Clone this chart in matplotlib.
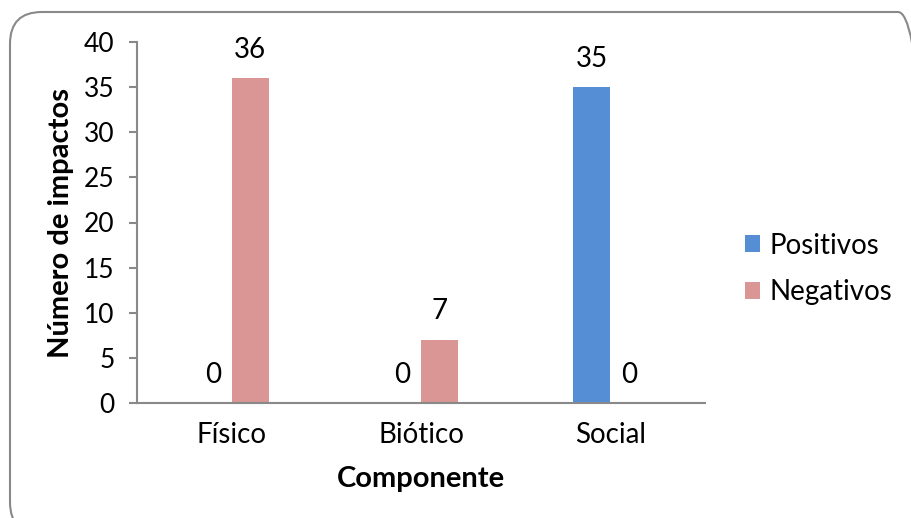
import matplotlib.pyplot as plt
from matplotlib.patches import FancyBboxPatch
import numpy as np

plt.rcParams['font.family'] = ['Lato', 'DejaVu Sans']

categories = ["Físico", "Biótico", "Social"]
positivos = [0, 0, 35]
negativos = [36, 7, 0]

blue = "#558ED5"
pink = "#D99694"
gray = "#898989"

fig = plt.figure(figsize=(9.11, 5.18), dpi=100)

# rounded border, runs off the right and bottom edges
border = FancyBboxPatch((10/911, -16/518), 920/911, 522/518,
                        boxstyle="round,pad=0,rounding_size=0.035",
                        transform=fig.transFigure, fill=False,
                        edgecolor=gray, linewidth=1.5, mutation_aspect=911/518)
fig.patches.append(border)

ax = fig.add_axes([137/911, 1-403/518, 568/911, 361/518])

x = np.arange(len(categories))
w = 0.195

b1 = ax.bar(x - w/2, positivos, w, color=blue, label="Positivos")
b2 = ax.bar(x + w/2, negativos, w, color=pink, label="Negativos")

for bars in (b1, b2):
    for rect in bars:
        h = rect.get_height()
        ax.text(rect.get_x() + rect.get_width()/2, h + 1.7, str(int(h)),
                ha="center", va="bottom", fontsize=20)

ax.set_xlim(-0.5, 2.5)
ax.set_ylim(0, 40)
ax.set_yticks(range(0, 41, 5))
ax.set_xticks(x)
ax.set_xticklabels(categories)

ax.spines["top"].set_visible(False)
ax.spines["right"].set_visible(False)
ax.spines["left"].set_color(gray)
ax.spines["bottom"].set_color(gray)
ax.spines["left"].set_linewidth(1.5)
ax.spines["bottom"].set_linewidth(1.5)

ax.tick_params(axis="y", length=6, color=gray, width=1.5, labelsize=19, pad=10)
ax.tick_params(axis="x", length=0, labelsize=20, pad=14)

ax.set_ylabel("Número de impactos", fontsize=21, fontweight="bold", labelpad=7)
ax.set_xlabel("Componente", fontsize=21, fontweight="bold", labelpad=13)

fig.legend(handles=[b1, b2], loc="center left", bbox_to_anchor=(745/911, 1-269/518),
           frameon=False, fontsize=20, handlelength=0.55, handleheight=0.55,
           handletextpad=0.35, labelspacing=0.75, borderpad=0, borderaxespad=0)

fig.savefig("out.png", dpi=100)
